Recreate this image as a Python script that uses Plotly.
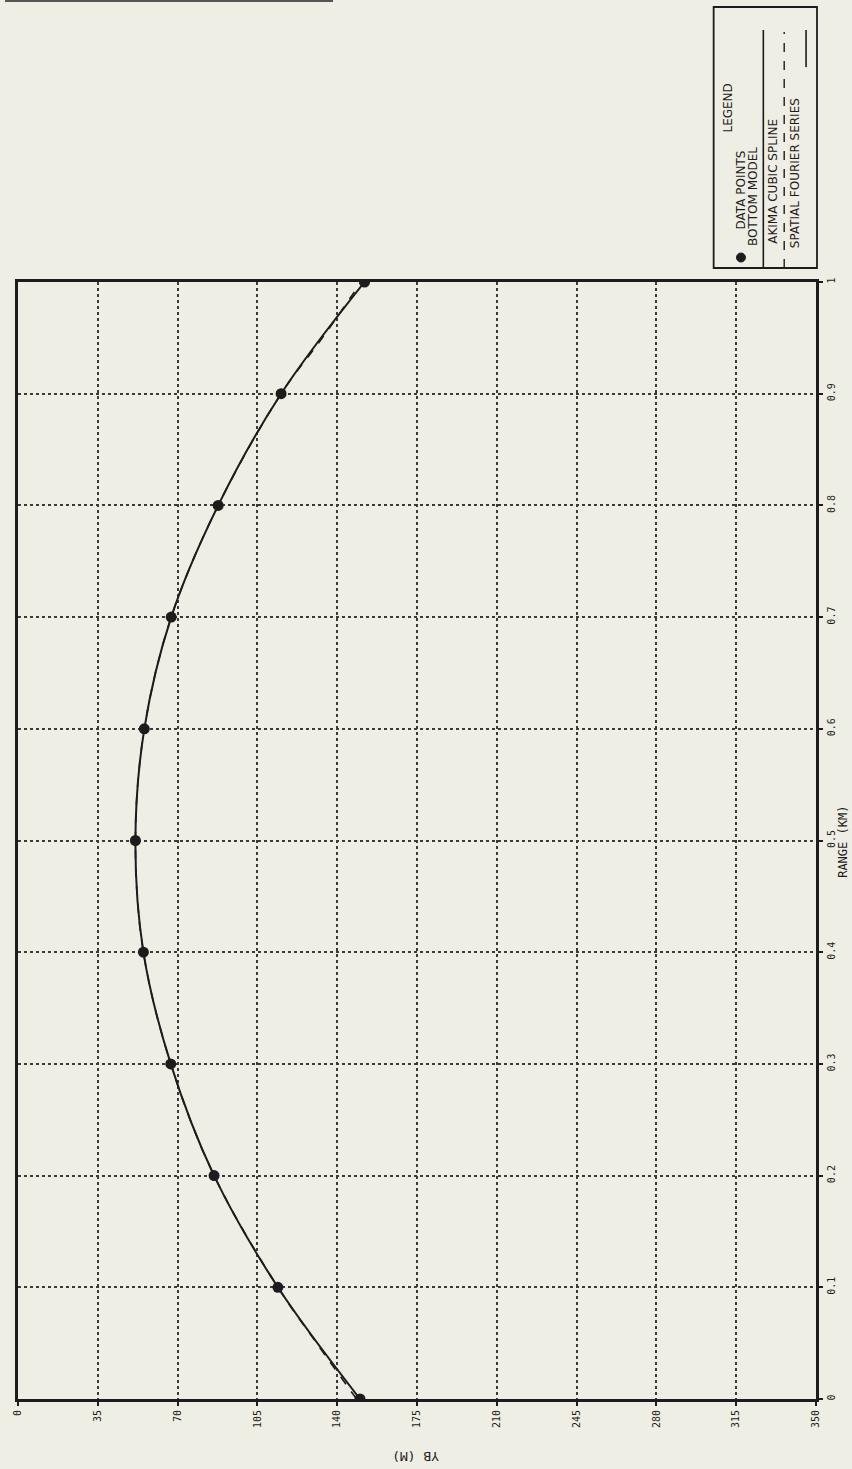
import plotly.graph_objects as go

# ---- data ----
range_km = [0.0, 0.1, 0.2, 0.3, 0.4, 0.5, 0.6, 0.7, 0.8, 0.9, 1.0]
depth_pts = [150.0, 114.0, 86.0, 67.0, 55.0, 51.5, 55.4, 67.2, 87.8, 115.4, 152.0]

fourier_range = [0.0, 0.05, 0.1, 0.2, 0.3, 0.4, 0.5, 0.6, 0.7, 0.8, 0.9, 0.95, 1.0]
fourier_depth = [148.5, 131.0, 114.0, 86.0, 67.0, 55.0, 51.5, 55.4, 67.2, 87.8, 115.4, 133.5, 150.5]

depth_ticks = [0, 35, 70, 105, 140, 175, 210, 245, 280, 315, 350]
range_ticks = [0, 0.1, 0.2, 0.3, 0.4, 0.5, 0.6, 0.7, 0.8, 0.9, 1.0]
range_labels = ["0", "0.1", "0.2", "0.3", "0.4", "0.5", "0.6", "0.7", "0.8", "0.9", "1"]

legend_title = "LEGEND"
legend_items = ["DATA POINTS", "BOTTOM MODEL", "AKIMA CUBIC SPLINE", "SPATIAL FOURIER SERIES"]

W, H = 852, 1469
L, R, T, B = 13, 816, 282, 1399
BG = "#efeee5"
INK = "#1c1c1c"
FONT = "DejaVu Sans Mono"
LFONT = "DejaVu Sans"


def px(x):
    return (x - L) / (R - L)


def py(y):
    return (B - y) / (B - T)


fig = go.Figure()

fig.add_trace(go.Scatter(
    x=fourier_depth, y=fourier_range, mode="lines", line_shape="spline",
    line=dict(color=INK, width=1.6, dash="dash"), showlegend=False, hoverinfo="skip"))
fig.add_trace(go.Scatter(
    x=depth_pts, y=range_km, mode="lines", line_shape="spline",
    line=dict(color=INK, width=2.0), showlegend=False, hoverinfo="skip"))
fig.add_trace(go.Scatter(
    x=depth_pts, y=range_km, mode="markers",
    marker=dict(color=INK, size=11), showlegend=False, hoverinfo="skip"))

axis_common = dict(
    showgrid=True, gridcolor="#3a3a3a", gridwidth=1.6, griddash="dot",
    showline=True, linecolor=INK, linewidth=3, mirror=True,
    zeroline=False, ticks="outside", ticklen=4, tickwidth=1.5, tickcolor=INK,
    tickangle=-90, tickfont=dict(family=FONT, size=10, color=INK),
)

fig.update_layout(
    width=W, height=H,
    margin=dict(l=L, r=W - R, t=T, b=H - B),
    paper_bgcolor=BG, plot_bgcolor=BG,
    xaxis=dict(range=[0, 350], tickvals=depth_ticks, **axis_common),
    yaxis=dict(range=[0, 1], side="right", tickvals=range_ticks, ticktext=range_labels,
               **axis_common),
    showlegend=False,
)


def note(text, x, y, angle, font, xa="center", ya="middle"):
    fig.add_annotation(text=text, x=px(x), y=py(y), xref="paper", yref="paper",
                       showarrow=False, textangle=angle, xanchor=xa, yanchor=ya,
                       font=font)


# axis titles as on the rotated page
note("RANGE (KM)", 843, 842, -90, dict(family=FONT, size=12, color=INK))
note("YB (M)", 413, 1457, 180, dict(family=FONT, size=13, color=INK))

# ---- legend box ----
shapes = []
shapes.append(dict(type="rect", xref="paper", yref="paper",
                   x0=px(713), x1=px(817), y0=py(268), y1=py(7),
                   line=dict(color=INK, width=1.8)))
shapes.append(dict(type="circle", xref="paper", yref="paper",
                   x0=px(736), x1=px(745), y0=py(262), y1=py(253),
                   fillcolor=INK, line=dict(color=INK, width=1)))
shapes.append(dict(type="line", xref="paper", yref="paper",
                   x0=px(763), x1=px(763), y0=py(268), y1=py(30),
                   line=dict(color=INK, width=1.6)))
shapes.append(dict(type="line", xref="paper", yref="paper",
                   x0=px(784), x1=px(784), y0=py(268), y1=py(32),
                   line=dict(color=INK, width=1.4, dash="dash")))
shapes.append(dict(type="line", xref="paper", yref="paper",
                   x0=px(806), x1=px(806), y0=py(67), y1=py(30),
                   line=dict(color=INK, width=1.6)))
# scan artifact strip at the very top
shapes.append(dict(type="rect", xref="paper", yref="paper",
                   x0=px(0), x1=px(330), y0=py(2), y1=py(0),
                   fillcolor="#555555", line=dict(width=0)))
fig.update_layout(shapes=shapes)

lf = dict(family=LFONT, size=12, color=INK)
note(legend_title, 727, 108, -90, lf)
note(legend_items[0], 741, 190, -90, lf)
note(legend_items[1], 752, 248, -90, lf, ya="bottom")
note(legend_items[2], 773, 246, -90, lf, ya="bottom")
note(legend_items[3], 795, 250, -90, lf, ya="bottom")

fig.write_html(
    "out.html",
    config={"displayModeBar": False},
    post_script="document.body.style.margin='0';document.body.style.background='%s';" % BG,
)
